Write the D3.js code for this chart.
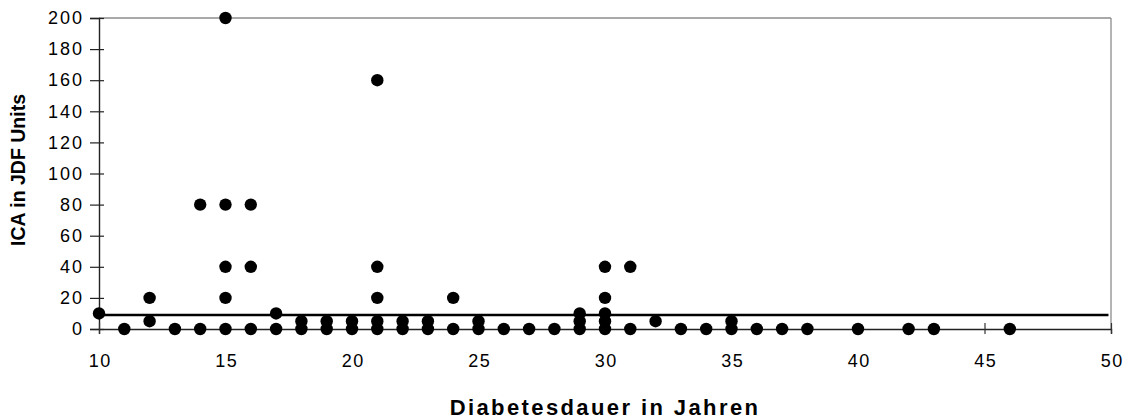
<!DOCTYPE html>
<html>
<head>
<meta charset="utf-8">
<script src="https://cdn.jsdelivr.net/npm/d3@7"></script>
<style>
  html, body { margin: 0; padding: 0; background: #fff; }
  svg { display: block; font-family: "Liberation Sans", Arial, sans-serif; }
</style>
</head>
<body>
<svg id="chart" width="1128" height="420"></svg>
<script>
// Diabetes duration (years) and ICA titre (JDF units) per patient
const duration = [10, 11, 12, 12, 13, 14, 14, 15, 15, 15, 15, 15, 16, 16, 16, 17, 17,
  18, 18, 19, 19, 20, 20, 21, 21, 21, 21, 21, 22, 22, 23, 23, 24, 24, 25, 25,
  26, 27, 28, 29, 29, 29, 30, 30, 30, 30, 30, 31, 31, 32, 33, 34, 35, 35,
  36, 37, 38, 40, 42, 43, 46];
const ica = [10, 0, 20, 5, 0, 0, 80, 0, 20, 40, 80, 200, 0, 40, 80, 0, 10,
  0, 5, 0, 5, 0, 5, 0, 5, 20, 40, 160, 0, 5, 0, 5, 0, 20, 0, 5,
  0, 0, 0, 0, 5, 10, 0, 5, 10, 20, 40, 0, 40, 5, 0, 0, 0, 5,
  0, 0, 0, 0, 0, 0, 0];
const xTicks = [10, 15, 20, 25, 30, 35, 40, 45, 50];
const yTicks = [0, 20, 40, 60, 80, 100, 120, 140, 160, 180, 200];
const cutoff = 9;          // positivity threshold line
const xLabel = "Diabetesdauer in Jahren";
const yLabel = "ICA in JDF Units";

const svg = d3.select("#chart");
const plot = { left: 99, right: 1111, top: 18, bottom: 329 };

const x = d3.scaleLinear().domain([10, 50]).range([plot.left, plot.right]);
const y = d3.scaleLinear().domain([0, 200]).range([plot.bottom, plot.top]);

// plot frame: grey top and right edges
svg.append("line").attr("x1", plot.left).attr("x2", plot.right)
  .attr("y1", plot.top).attr("y2", plot.top)
  .attr("stroke", "#8c8c8c").attr("stroke-width", 1.3);
svg.append("line").attr("x1", plot.right).attr("x2", plot.right)
  .attr("y1", plot.top).attr("y2", plot.bottom)
  .attr("stroke", "#8c8c8c").attr("stroke-width", 1.3);

// y axis
const yAxis = svg.append("g").attr("transform", `translate(${plot.left},0)`)
  .call(d3.axisLeft(y).tickValues(yTicks).tickSize(9).tickPadding(8));
yAxis.select(".domain").attr("stroke", "#222").attr("stroke-width", 1.4);
yAxis.selectAll(".tick line").attr("stroke", "#222").attr("stroke-width", 1.2)
  .attr("x2", -9).attr("x1", 5);
yAxis.selectAll(".tick text").attr("font-size", 18).attr("fill", "#000")
  .attr("letter-spacing", "2px").attr("dx", "2px")
  .attr("font-family", "'Liberation Sans', Arial, sans-serif");

// x axis
const xAxis = svg.append("g").attr("transform", `translate(0,${plot.bottom})`)
  .call(d3.axisBottom(x).tickValues(xTicks).tickSize(5).tickPadding(20));
xAxis.select(".domain").attr("stroke", "#222").attr("stroke-width", 1.4);
xAxis.selectAll(".tick line").attr("stroke", "#333").attr("stroke-width", 1.2)
  .attr("y1", -6).attr("y2", 5);
xAxis.selectAll(".tick text").attr("font-size", 18).attr("fill", "#000")
  .attr("letter-spacing", "1.5px").attr("dx", "0.75px")
  .attr("font-family", "'Liberation Sans', Arial, sans-serif");

// threshold line
svg.append("line")
  .attr("x1", x(10)).attr("x2", x(49.9))
  .attr("y1", y(cutoff)).attr("y2", y(cutoff))
  .attr("stroke", "#000").attr("stroke-width", 2.4);

// data points
svg.append("g").selectAll("circle")
  .data(duration.map((d, i) => ({ d, v: ica[i] })))
  .join("circle")
  .attr("cx", p => x(p.d))
  .attr("cy", p => y(p.v))
  .attr("r", 6.2)
  .attr("fill", "#000");

// axis titles
svg.append("text")
  .attr("x", 605).attr("y", 415)
  .attr("text-anchor", "middle")
  .attr("font-size", 22).attr("font-weight", "bold")
  .attr("letter-spacing", "2.4px")
  .text(xLabel);

svg.append("text")
  .attr("transform", "translate(25,170) rotate(-90)")
  .attr("text-anchor", "middle")
  .attr("font-size", 19.5).attr("font-weight", "bold")
  .text(yLabel);
</script>
</body>
</html>
